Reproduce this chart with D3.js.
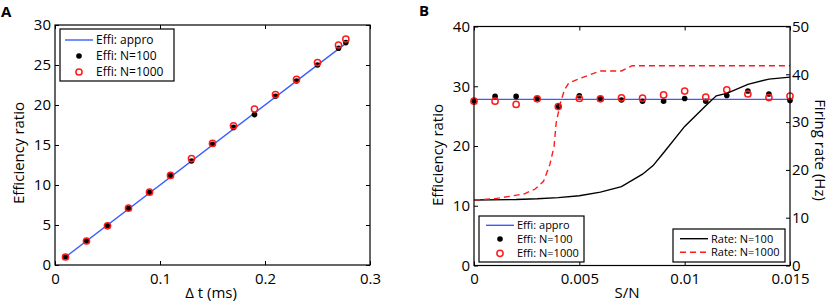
<!DOCTYPE html>
<html>
<head>
<meta charset="utf-8">
<script src="https://cdn.jsdelivr.net/npm/d3@7"></script>
<style>
  body { margin: 0; background: #fff; }
  svg text { font-family: "Open Sans", "Liberation Sans", Arial, sans-serif; fill: #000; }
</style>
</head>
<body>
<svg id="chart" width="830" height="307"></svg>
<script>
// ---- panel A data ----
var dtValues = [0.01, 0.03, 0.05, 0.07, 0.09, 0.11, 0.13, 0.15, 0.17, 0.19, 0.21, 0.23, 0.25, 0.27, 0.277];
var effA100  = [1.0, 3.0, 4.9, 7.1, 9.1, 11.2, 13.0, 15.1, 17.2, 18.8, 21.1, 23.0, 25.0, 27.1, 27.8];
var effA1000 = [1.0, 3.0, 4.9, 7.1, 9.1, 11.2, 13.3, 15.2, 17.4, 19.5, 21.3, 23.2, 25.3, 27.5, 28.25];
var approAx  = [0.01, 0.277];
var approAy  = [1.0, 27.7];

// ---- panel B data ----
var snValues = [0, 0.001, 0.002, 0.003, 0.004, 0.005, 0.006, 0.007, 0.008, 0.009, 0.010, 0.011, 0.012, 0.013, 0.014, 0.015];
var effB100  = [27.5, 28.3, 28.3, 27.9, 26.6, 28.4, 27.9, 27.7, 27.5, 27.5, 27.95, 27.5, 28.45, 29.2, 28.7, 27.6];
var effB1000 = [27.5, 27.5, 26.95, 27.9, 26.6, 27.95, 27.9, 28.05, 28.0, 28.55, 29.2, 28.2, 29.4, 28.7, 28.1, 28.35];
var approBx  = [0, 0.015];
var approBy  = [27.8, 27.8];

var rate100x  = [0, 0.002, 0.003, 0.004, 0.005, 0.006, 0.007, 0.008, 0.0085, 0.009, 0.010, 0.011, 0.0115, 0.012, 0.013, 0.014, 0.015];
var rate100y  = [13.7, 13.8, 13.95, 14.2, 14.6, 15.35, 16.5, 19.1, 20.9, 23.6, 29.1, 33.4, 35.5, 36.0, 37.9, 39.0, 39.4];
var rate1000x = [0, 0.001, 0.0016, 0.0024, 0.0029, 0.0033, 0.0036, 0.0038, 0.0039, 0.0041, 0.0043, 0.0045, 0.005, 0.006, 0.007, 0.0075, 0.015];
var rate1000y = [13.7, 14.0, 14.4, 15.0, 16.0, 17.6, 21.1, 24.9, 29.8, 34.0, 36.8, 38.2, 39.1, 40.7, 40.7, 41.8, 41.8];

var ticksAx = [0, 0.1, 0.2, 0.3];
var ticksAy = [0, 5, 10, 15, 20, 25, 30];
var ticksBx = [0, 0.005, 0.01, 0.015];
var ticksBy = [0, 10, 20, 30, 40];
var ticksBr = [0, 10, 20, 30, 40, 50];

var BLUE = "#3a5cff", RED = "#ff1a1a";
var svg = d3.select("#chart");

function zip(xs, ys) { return xs.map(function(x, i) { return [x, ys[i]]; }); }

// axes box, MATLAB style
function box(g, x, y) {
  var r = x.range(), t = y.range();
  g.append("rect")
    .attr("x", r[0]).attr("y", t[1])
    .attr("width", r[1] - r[0]).attr("height", t[0] - t[1])
    .attr("fill", "none").attr("stroke", "#000").attr("stroke-width", 1.2);
}

function xAxis(g, x, y, ticks, top) {
  var t = y.range();
  var ax = g.append("g").attr("transform", "translate(0," + t[0] + ")")
    .call(d3.axisBottom(x).tickValues(ticks).tickSize(-4).tickPadding(8).tickFormat(function(d) { return String(d); }));
  ax.select(".domain").remove();
  ax.selectAll("text").attr("font-size", 15);
  if (top) {
    var ax2 = g.append("g").attr("transform", "translate(0," + t[1] + ")")
      .call(d3.axisTop(x).tickValues(ticks).tickSize(-4).tickFormat(""));
    ax2.select(".domain").remove();
  }
  g.selectAll(".tick line").attr("stroke", "#000");
}

function yAxis(g, x, y, ticks, side) {
  var r = x.range();
  var ax;
  if (side == "left") {
    ax = g.append("g").attr("transform", "translate(" + r[0] + ",0)")
      .call(d3.axisLeft(y).tickValues(ticks).tickSize(-4).tickPadding(4));
  } else {
    ax = g.append("g").attr("transform", "translate(" + r[1] + ",0)")
      .call(d3.axisRight(y).tickValues(ticks).tickSize(-4).tickPadding(2));
  }
  ax.select(".domain").remove();
  ax.selectAll("text").attr("font-size", 15);
  ax.selectAll(".tick line").attr("stroke", "#000");
  return ax;
}

function yAxisBlank(g, x, y, ticks) {
  var r = x.range();
  var ax = g.append("g").attr("transform", "translate(" + r[1] + ",0)")
    .call(d3.axisRight(y).tickValues(ticks).tickSize(-4).tickFormat(""));
  ax.select(".domain").remove();
  ax.selectAll(".tick line").attr("stroke", "#000");
}

function dots(g, x, y, xs, ys) {
  g.selectAll(null).data(zip(xs, ys)).enter().append("circle")
    .attr("cx", function(d) { return x(d[0]); })
    .attr("cy", function(d) { return y(d[1]); })
    .attr("r", 2.8).attr("fill", "#000");
}

function rings(g, x, y, xs, ys) {
  g.selectAll(null).data(zip(xs, ys)).enter().append("circle")
    .attr("cx", function(d) { return x(d[0]); })
    .attr("cy", function(d) { return y(d[1]); })
    .attr("r", 3.1).attr("fill", "none").attr("stroke", RED).attr("stroke-width", 1.5);
}

function curve(g, x, y, xs, ys, color, dash) {
  var line = d3.line().x(function(d) { return x(d[0]); }).y(function(d) { return y(d[1]); });
  var p = g.append("path").datum(zip(xs, ys)).attr("d", line)
    .attr("fill", "none").attr("stroke", color).attr("stroke-width", 1.4);
  if (dash) p.attr("stroke-dasharray", dash);
}

// legend: items = [{type, label}]
function legend(g, x0, y0, w, h, rowY, sx, fs, items) {
  var lg = g.append("g");
  lg.append("rect").attr("x", x0).attr("y", y0).attr("width", w).attr("height", h)
    .attr("fill", "#fff").attr("stroke", "#000").attr("stroke-width", 1.2);
  items.forEach(function(it, i) {
    var cy = rowY[i];
    if (it.type == "line" || it.type == "dash") {
      var l = lg.append("line").attr("x1", sx).attr("x2", sx + 28).attr("y1", cy).attr("y2", cy)
        .attr("stroke", it.color).attr("stroke-width", 1.4);
      if (it.type == "dash") l.attr("stroke-dasharray", "6,4");
    } else if (it.type == "dot") {
      lg.append("circle").attr("cx", sx + 14).attr("cy", cy).attr("r", 2.8).attr("fill", "#000");
    } else {
      lg.append("circle").attr("cx", sx + 14).attr("cy", cy).attr("r", 3.1)
        .attr("fill", "none").attr("stroke", RED).attr("stroke-width", 1.5);
    }
    lg.append("text").attr("x", sx + 31).attr("y", cy).attr("dy", "0.35em")
      .attr("font-size", fs).text(it.label);
  });
}

// ================= panel A =================
var gA = svg.append("g");
var xA = d3.scaleLinear().domain([0, 0.3]).range([55, 370]);
var yA = d3.scaleLinear().domain([0, 30]).range([265, 25]);

curve(gA, xA, yA, approAx, approAy, BLUE);
dots(gA, xA, yA, dtValues, effA100);
rings(gA, xA, yA, dtValues, effA1000);
box(gA, xA, yA);
xAxis(gA, xA, yA, ticksAx, true);
yAxis(gA, xA, yA, ticksAy, "left");
yAxisBlank(gA, xA, yA, ticksAy);

legend(gA, 60, 29, 114, 52, [40, 56, 72], 65, 12, [
  {type: "line", color: BLUE, label: "Effi: appro"},
  {type: "dot", label: "Effi: N=100"},
  {type: "ring", label: "Effi: N=1000"}
]);

gA.append("text").attr("transform", "translate(24,153) rotate(-90)")
  .attr("text-anchor", "middle").attr("font-size", 15).text("Efficiency ratio");
gA.append("text").attr("x", 211).attr("y", 298)
  .attr("text-anchor", "middle").attr("font-size", 15).text("\u0394 t (ms)");
gA.append("text").attr("x", 1).attr("y", 17)
  .attr("font-size", 15).attr("font-weight", "bold").text("A");

// ================= panel B =================
var gB = svg.append("g");
var xB = d3.scaleLinear().domain([0, 0.015]).range([474, 790]);
var yB = d3.scaleLinear().domain([0, 40]).range([265.5, 26.5]);
var yR = d3.scaleLinear().domain([0, 50]).range([265.5, 26.5]);

curve(gB, xB, yB, approBx, approBy, BLUE);
dots(gB, xB, yB, snValues, effB100);
rings(gB, xB, yB, snValues, effB1000);
curve(gB, xB, yR, rate100x, rate100y, "#000");
curve(gB, xB, yR, rate1000x, rate1000y, RED, "6,4");
box(gB, xB, yB);
xAxis(gB, xB, yB, ticksBx, true);
yAxis(gB, xB, yB, ticksBy, "left");
yAxis(gB, xB, yR, ticksBr, "right");

legend(gB, 479, 216, 105, 46, [225.3, 239, 253.3], 486, 11, [
  {type: "line", color: BLUE, label: "Effi: appro"},
  {type: "dot", label: "Effi: N=100"},
  {type: "ring", label: "Effi: N=1000"}
]);
legend(gB, 673, 229, 112, 33, [238.7, 252.3], 680, 11, [
  {type: "line", color: "#000", label: "Rate: N=100"},
  {type: "dash", color: RED, label: "Rate: N=1000"}
]);

gB.append("text").attr("transform", "translate(443,155) rotate(-90)")
  .attr("text-anchor", "middle").attr("font-size", 15).text("Efficiency ratio");
gB.append("text").attr("transform", "translate(815,150) rotate(90)")
  .attr("text-anchor", "middle").attr("font-size", 15).text("Firing rate (Hz)");
gB.append("text").attr("x", 627).attr("y", 298)
  .attr("text-anchor", "middle").attr("font-size", 15).text("S/N");
gB.append("text").attr("x", 419).attr("y", 16)
  .attr("font-size", 15).attr("font-weight", "bold").text("B");
</script>
</body>
</html>
